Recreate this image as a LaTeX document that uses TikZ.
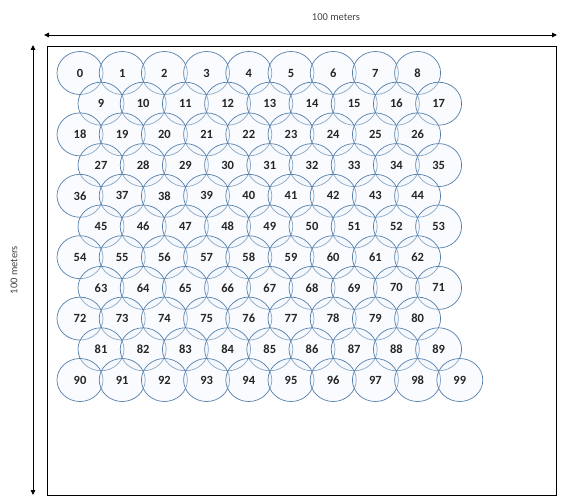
\documentclass[tikz,border=0pt]{standalone}
\usepackage{fontspec}
\setmainfont{Carlito}
\usetikzlibrary{arrows.meta,shapes.geometric}
\definecolor{cellblue}{HTML}{557FAB}
\definecolor{cellfill}{HTML}{EEF4FB}
\definecolor{labelgray}{HTML}{444444}
\begin{document}
\begin{tikzpicture}[x=1pt,y=-1pt,
  cell/.style={ellipse, draw=cellblue, line width=0.7pt, minimum width=46pt, minimum height=43pt, inner sep=0pt,
    fill=cellfill, fill opacity=0.35, text opacity=1, text=black!85,
    font=\bfseries\fontsize{12.5}{14}\selectfont},
  dim/.style={{Triangle[length=5pt,width=4.5pt]}-{Triangle[length=5pt,width=4.5pt]}, line width=0.9pt, draw=black},
  dimlabel/.style={text=labelgray, font=\fontsize{10.5}{12}\selectfont, inner sep=1pt},
  area/.style={draw=black, line width=1.4pt}]
\useasboundingbox (0,0) rectangle (561,497);
% field
\node[area, minimum width=509pt, minimum height=449pt, inner sep=0pt, anchor=north west] (field) at (47,46) {};
% sensor cells
\foreach \r in {0,...,9}{
  \foreach \c in {0,...,8}{
    \pgfmathtruncatemacro{\idx}{9*\r+\c}
    \pgfmathsetmacro{\xx}{80+42.2*\c+21*mod(\r,2)}
    \pgfmathsetmacro{\yy}{73+30.7*\r}
    \node[cell] (n\idx) at (\xx,\yy) {\idx};
  }
}
\foreach \c in {0,...,9}{
  \pgfmathtruncatemacro{\idx}{90+\c}
  \pgfmathsetmacro{\xx}{80+42.2*\c}
  \node[cell] (n\idx) at (\xx,380) {\idx};
}
% dimensions
\coordinate (tl) at (44,35);
\coordinate (tr) at (557,35);
\coordinate (lt) at (33,45);
\coordinate (lb) at (33,495);
\draw[dim] (tl) -- (tr);
\draw[dim] (lt) -- (lb);
\node[dimlabel] (wlabel) at (336,17) {100 meters};
\node[dimlabel, rotate=90] (hlabel) at (14,270) {100 meters};
\end{tikzpicture}
\end{document}
